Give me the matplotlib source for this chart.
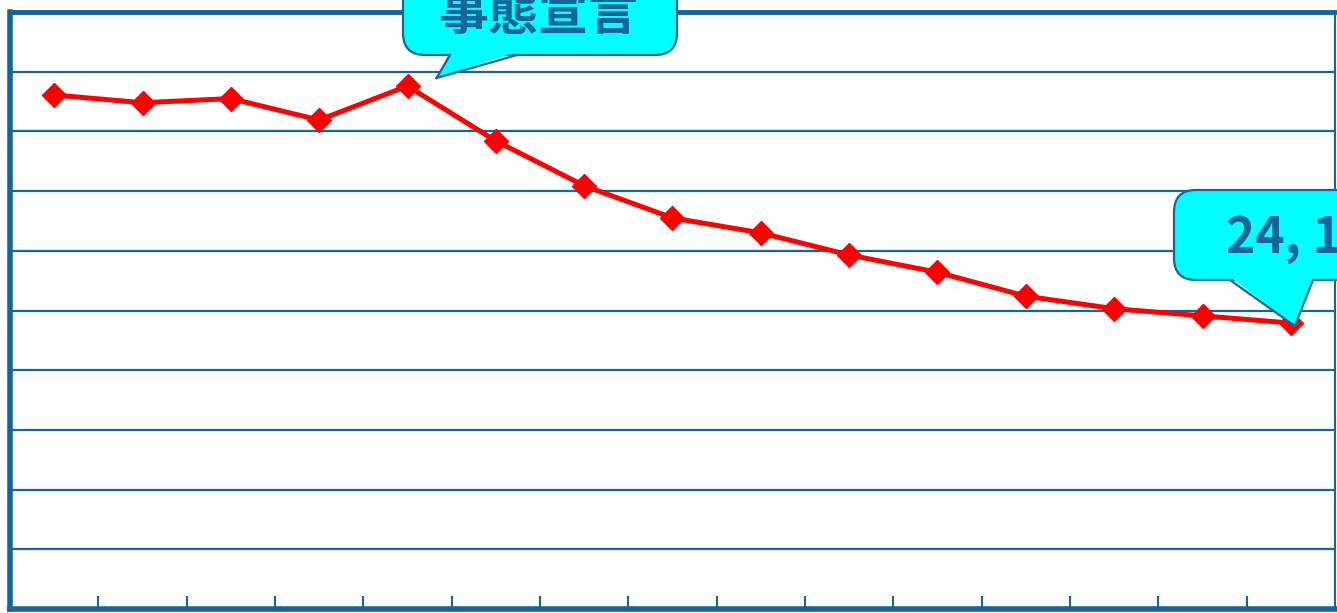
import matplotlib
matplotlib.use("Agg")
import matplotlib.pyplot as plt
import numpy as np
from matplotlib.patches import FancyBboxPatch, Polygon
from matplotlib.transforms import Affine2D

plt.rcParams['font.family'] = ['Noto Sans CJK JP', 'DejaVu Sans']

# values (axis 0-100, gridline every 10)
periods = list(range(15))
values = [86.1, 84.8, 85.5, 81.9, 87.6, 78.4, 70.9, 65.5, 63.0,
          59.3, 56.4, 52.4, 50.3, 49.1, 47.9]
note_top = "事態宣言"
note_end = "24, 1"

W, H = 1337, 613
blue = '#15659A'
cyan = '#00FFFF'

fig = plt.figure(figsize=(W / 100, H / 100), dpi=100)
ax = fig.add_axes([10 / W, 4 / H, 1325 / W, 597 / H])

ax.plot(periods, values, color='#FF0000', lw=3.6, marker='D', ms=12.5,
        mec='#FF0000', mfc='#FF0000', zorder=4, clip_on=False)

ax.set_xlim(-0.5, 14.5)
ax.set_ylim(0, 100)
ax.set_yticks(np.arange(0, 101, 10))
ax.set_yticklabels([])
ax.tick_params(axis='y', length=0)
ax.grid(axis='y', color=blue, lw=1.6)
ax.set_xticks([])
ax.set_xticks(np.arange(0.5, 14, 1), minor=True)
ax.tick_params(axis='x', which='minor', direction='in', length=9.5,
               width=1.5, color=blue, labelbottom=False)
ax.set_axisbelow(True)

for side, w in [('left', 4), ('bottom', 4), ('top', 3.5), ('right', 1.5)]:
    ax.spines[side].set_color(blue)
    ax.spines[side].set_linewidth(w)

# pixel (top-down) -> figure
px = Affine2D().scale(1 / W, -1 / H).translate(0, 1) + fig.transFigure
to_px = (ax.transData + fig.transFigure.inverted()
         + Affine2D().translate(0, -1).scale(W, -H))


def callout(box, base, idx, off, text, tx, ty, ha):
    x0, y0, x1, y1 = box
    tip = to_px.transform((periods[idx], values[idx])) + np.array(off)
    ax.add_patch(FancyBboxPatch((x0, y0), x1 - x0, y1 - y0,
                                boxstyle='round,pad=0,rounding_size=22',
                                fc=cyan, ec=blue, lw=1.6, transform=px,
                                clip_on=False, zorder=6))
    b0, b1 = base
    ax.add_patch(Polygon([(b0, y1 - 3), (b1, y1 - 3), tuple(tip)],
                         closed=True, fc=cyan, ec='none', transform=px,
                         clip_on=False, zorder=7))
    for b in (b0, b1):
        ax.plot([b, tip[0]], [y1, tip[1]], color=blue, lw=1.6,
                transform=px, clip_on=False, zorder=8)
    ax.text(tx, ty, text, transform=px, ha=ha, va='center', fontsize=36,
            fontweight='bold', color=blue, zorder=9, clip_on=False)


callout((403, -40, 677, 55), (450, 517), 4, (29, -8), note_top,
        538, 15, 'center')
callout((1174, 190, 1400, 280), (1230, 1313), 14, (4, 3), note_end,
        1226, 238, 'left')

fig.savefig('out.png', dpi=100)
